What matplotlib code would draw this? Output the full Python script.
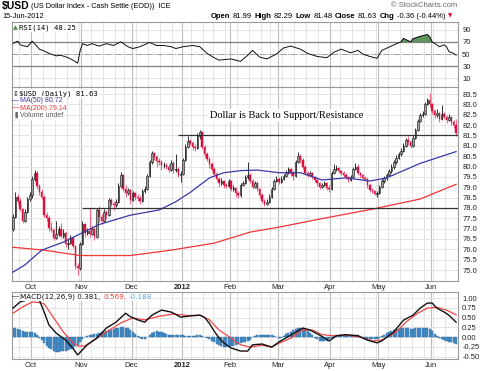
import numpy as np
import pandas as pd
import matplotlib
matplotlib.use("Agg")
import matplotlib.pyplot as plt

plt.rcParams['font.family'] = ['Liberation Sans', 'DejaVu Sans']

W, H = 489, 371

# trading days shown (ICE closed on these US holidays)
holidays = ["2011-11-24", "2011-12-26", "2012-01-02", "2012-01-16",
            "2012-02-20", "2012-04-06", "2012-05-28"]
days = pd.bdate_range("2011-09-21", "2012-06-15")
days = days[~days.isin(pd.to_datetime(holidays))]

first_open = 77.00
closes = [77.55, 78.55, 78.35, 77.95, 77.35, 77.80, 78.45, 78.60,
          79.40, 79.70, 79.05, 78.75, 78.55, 77.65, 77.50, 77.05, 76.95, 76.55,
          76.75, 77.00, 76.65, 76.80, 76.25, 76.30, 76.55, 76.15, 75.20, 75.10, 76.25,
          77.20, 76.80, 76.90, 76.75, 77.00, 76.60, 77.90, 77.55, 77.35, 77.80,
          77.65, 78.40, 78.20, 78.15, 78.30, 79.05, 79.60, 78.90, 78.70, 78.85, 78.40,
          78.70, 78.55, 78.50, 78.35, 78.80, 78.90, 79.55, 80.20, 80.65, 80.45,
          80.25, 80.20, 80.05, 80.05, 80.00, 79.85, 80.15, 79.85, 79.90, 79.60, 79.65,
          80.30, 80.95, 81.25, 81.15, 80.95, 80.90, 81.45, 81.65, 80.95, 80.60,
          80.35, 80.10, 79.90, 79.65, 79.40, 79.20, 79.30, 79.10, 79.05, 79.30,
          78.90, 78.95, 78.70, 78.60, 79.10, 79.20, 79.50, 79.60, 79.30, 79.00,
          79.20, 78.90, 78.60, 78.35, 78.20, 78.30, 78.55, 78.90, 79.30, 79.40,
          79.25, 79.40, 79.55, 79.70, 79.90, 79.70, 79.55, 80.20, 80.50, 80.30, 80.00,
          79.70, 79.60, 79.70, 79.50, 79.35, 79.20, 79.00, 79.10, 79.20, 78.95, 78.90,
          79.70, 79.90, 79.95, 79.80, 79.70, 79.60, 79.50, 79.35, 79.50, 79.90,
          80.00, 79.70, 79.60, 79.45, 79.40, 79.10, 78.85, 78.80, 78.65, 78.70,
          79.00, 79.30, 79.45, 79.60, 79.80, 80.00, 80.20, 80.40, 80.60, 80.75, 81.00,
          81.30, 81.20, 81.00, 81.40, 81.75, 82.20, 82.50, 82.55, 83.00, 83.20, 83.00,
          82.70, 82.50, 82.60, 82.30, 82.55, 82.40, 82.25, 82.40, 82.15, 81.99, 81.63]
highs = [77.70, 78.75, 78.65, 78.50, 78.00, 77.95, 78.55, 78.75,
         79.55, 79.85, 79.80, 79.15, 78.90, 78.60, 77.80, 77.65, 77.30, 77.05,
         77.35, 77.15, 77.25, 77.00, 76.90, 76.55, 76.70, 76.60, 76.20, 75.35, 76.35,
         77.35, 77.25, 77.05, 78.00, 77.15, 77.10, 78.00, 78.10, 77.70, 77.95,
         77.90, 78.50, 78.50, 78.35, 78.45, 79.20, 79.75, 79.65, 79.10, 78.95, 78.90,
         78.80, 78.75, 78.65, 78.60, 78.90, 79.05, 79.65, 80.30, 80.75, 80.70,
         80.55, 80.40, 80.30, 80.20, 80.15, 80.10, 80.30, 80.25, 80.60, 80.00, 79.80,
         80.40, 81.10, 81.45, 81.35, 81.25, 81.10, 81.60, 81.78, 81.70, 81.05,
         80.70, 80.45, 80.20, 80.00, 79.75, 79.50, 79.45, 79.35, 79.20, 79.40,
         79.35, 79.10, 79.00, 78.80, 79.20, 79.30, 79.60, 80.20, 79.70, 79.40,
         79.30, 79.30, 78.95, 78.70, 78.45, 78.45, 78.65, 79.00, 79.40, 79.55,
         79.50, 79.55, 79.65, 79.85, 80.00, 79.95, 79.80, 80.30, 80.70, 80.60, 80.40,
         80.05, 79.80, 79.80, 79.75, 79.55, 79.40, 79.25, 79.20, 79.30, 79.25, 79.10,
         79.80, 80.10, 80.05, 80.00, 79.85, 79.80, 79.70, 79.55, 79.60, 80.00,
         80.15, 80.10, 79.75, 79.65, 79.55, 79.45, 79.15, 78.95, 78.85, 78.80,
         79.10, 79.40, 79.55, 79.70, 79.90, 80.10, 80.30, 80.55, 80.70, 80.90, 81.15,
         81.40, 81.45, 81.30, 81.50, 81.85, 82.30, 82.60, 82.70, 83.10, 83.30, 83.55,
         83.05, 82.80, 82.80, 82.65, 82.95, 82.65, 82.50, 82.55, 82.45, 82.25, 82.29]
lows = [76.90, 77.50, 78.20, 77.85, 77.25, 77.30, 77.75, 78.35,
        78.50, 79.30, 78.90, 78.60, 78.45, 77.55, 77.35, 76.90, 76.85, 76.45,
        76.50, 76.65, 76.55, 76.55, 76.10, 76.00, 76.25, 76.05, 75.05, 74.75, 75.00,
        76.20, 76.60, 76.70, 76.60, 76.70, 76.45, 76.55, 77.30, 77.20, 77.30,
        77.45, 77.60, 78.10, 77.90, 78.05, 78.25, 79.00, 78.80, 78.55, 78.60, 78.20,
        78.35, 78.40, 78.35, 78.20, 78.30, 78.70, 78.85, 79.50, 80.10, 80.30,
        80.00, 80.05, 79.85, 79.95, 79.90, 79.75, 79.80, 79.70, 79.75, 79.50, 79.25,
        79.60, 80.25, 80.90, 81.05, 80.80, 80.75, 80.85, 81.35, 80.85, 80.45,
        80.25, 79.95, 79.80, 79.55, 79.30, 79.00, 79.10, 78.95, 78.95, 79.00,
        78.80, 78.80, 78.55, 78.50, 78.55, 79.05, 79.15, 79.40, 79.20, 78.90,
        78.95, 78.80, 78.50, 78.25, 78.10, 78.15, 78.25, 78.50, 78.85, 79.25,
        79.15, 79.20, 79.35, 79.50, 79.65, 79.55, 79.35, 79.50, 80.15, 80.15, 79.90,
        79.60, 79.50, 79.55, 79.40, 79.25, 79.05, 78.90, 78.95, 79.05, 78.85, 78.75,
        78.85, 79.65, 79.80, 79.70, 79.60, 79.50, 79.40, 79.25, 79.30, 79.45,
        79.85, 79.60, 79.45, 79.35, 79.30, 78.95, 78.75, 78.70, 78.60, 78.55,
        78.65, 78.95, 79.20, 79.35, 79.55, 79.70, 79.90, 80.10, 80.35, 80.50, 80.70,
        80.95, 81.05, 80.90, 80.95, 81.35, 81.70, 82.15, 82.40, 82.50, 82.95, 82.85,
        82.55, 82.35, 82.40, 82.15, 82.25, 82.30, 82.10, 82.20, 82.00, 81.85, 81.48]

# moving averages (trading-day number, value)
ma50_day = [0, 5, 12, 21, 29, 36, 49, 61, 68, 74, 82, 88, 95, 102, 111, 120, 129, 139, 149, 156, 163, 170, 185]
ma50 = [74.90, 75.25, 75.96, 76.35, 76.80, 77.20, 77.65, 77.90, 78.30, 78.75, 79.45, 79.70,
        79.80, 79.83, 79.70, 79.70, 79.35, 79.45, 79.30, 79.45, 79.80, 80.15, 80.72]
ma200_day = [0, 13, 28, 49, 66, 84, 99, 111, 128, 150, 170, 185]
ma200 = [76.10, 75.96, 75.70, 75.70, 75.96, 76.30, 76.83, 77.07, 77.46, 77.94, 78.43, 79.14]

rsi_day = [0, 2, 3, 6, 8, 9, 11, 13, 15, 18, 20, 23, 25, 27, 28, 29, 31, 33, 36, 39,
           42, 45, 48, 50, 53, 57, 60, 63, 66, 68, 71, 75, 78, 81, 84, 86, 91, 95, 98, 100,
           103, 106, 110, 113, 116, 120, 123, 127, 131, 134, 137, 141, 144, 146, 149, 152, 154, 159, 162, 163,
           166, 167, 170, 173, 174, 175, 177, 178, 180, 181, 182, 184, 185]
rsi = [67.5, 71, 65, 62, 71, 67, 58, 55, 51, 47, 48, 44, 40, 35, 55, 67, 64, 67, 63, 67,
       64, 70, 62, 59, 62, 69, 64, 64, 62, 59, 62, 64, 62, 51, 44, 40, 42, 38, 48, 56,
       45, 42, 50, 60, 63, 58, 51, 46, 44, 53, 58, 52, 56, 50, 46, 43, 56, 65, 70, 75.6,
       70, 75, 79, 82, 78, 70, 65, 62, 65, 62, 54, 51, 48.25]

macd_day = [0, 3, 6, 8, 11, 13, 15, 18, 22, 25, 27, 29, 31, 35, 39, 43, 47, 49, 52, 55,
            58, 62, 66, 70, 74, 78, 80, 82, 84, 86, 88, 91, 95, 98, 100, 104, 108, 111, 116, 121,
            124, 128, 132, 135, 139, 144, 148, 152, 154, 159, 163, 167, 170, 173, 175, 177, 180, 182, 185]
macd = [0.74, 0.90, 0.95, 1.00, 0.95, 0.64, 0.31, 0.10, -0.08, -0.29, -0.46, -0.33, -0.20, -0.03, 0.23, 0.38, 0.61, 0.52, 0.44, 0.38,
        0.56, 0.69, 0.64, 0.51, 0.54, 0.56, 0.50, 0.35, 0.15, -0.02, -0.15, -0.28, -0.36, -0.36, -0.20, -0.18, -0.26, -0.13, 0.05, 0.23,
        0.18, 0.05, -0.10, 0.03, 0.06, 0.03, -0.08, -0.15, -0.10, 0.13, 0.43, 0.56, 0.74, 0.87, 0.87, 0.74, 0.64, 0.56, 0.381]
sig_day = [0, 4, 8, 11, 13, 17, 21, 25, 27, 30, 35, 39, 45, 50, 55, 61, 67, 73, 78, 82,
           86, 91, 95, 99, 104, 108, 111, 116, 121, 125, 129, 134, 139, 145, 150, 154, 160, 164, 169, 173,
           177, 181, 185]
signal = [0.61, 0.77, 0.90, 0.88, 0.85, 0.49, 0.13, -0.15, -0.23, -0.23, -0.03, 0.13, 0.36, 0.49, 0.44, 0.53, 0.59, 0.55, 0.56, 0.44,
          0.18, -0.03, -0.20, -0.26, -0.21, -0.26, -0.16, -0.03, 0.18, 0.18, 0.06, 0.03, 0.05, 0.00, -0.10, -0.08, 0.13, 0.38, 0.61, 0.74,
          0.76, 0.69, 0.569]
hist = [0.22, 0.22, 0.20, 0.18, 0.15, 0.14, 0.13, 0.12, 0.12, 0.10, 0.06,
        -0.02, -0.08, -0.15, -0.22, -0.28, -0.32, -0.36, -0.38, -0.38, -0.37, -0.36, -0.35, -0.33, -0.30, -0.27, -0.24, -0.20,
        -0.12, -0.05, 0.00, 0.03, 0.05, 0.06, 0.07,
        0.08, 0.10, 0.12, 0.14, 0.15, 0.17, 0.18, 0.20, 0.22, 0.24, 0.26, 0.25, 0.24, 0.22, 0.18, 0.13,
        0.07, 0.02, -0.02, -0.04, -0.04, -0.01,
        0.05, 0.10, 0.14, 0.15, 0.14, 0.12, 0.10, 0.08, 0.06, 0.05, 0.04,
        0.04, 0.05, 0.05, 0.04, 0.03, 0.02, 0.02, 0.02, 0.03, 0.04, 0.04, 0.02, 0.00,
        -0.02, -0.06, -0.10, -0.14, -0.18, -0.21, -0.23, -0.25, -0.25, -0.25, -0.24, -0.22, -0.20, -0.18, -0.16, -0.14, -0.12, -0.10, -0.08,
        0.00, 0.03, 0.05, 0.06, 0.06, 0.06, 0.05, 0.05, 0.04, 0.02, 0.00, -0.02, -0.02,
        0.03, 0.07, 0.10, 0.14, 0.17, 0.20, 0.22, 0.22, 0.21, 0.19, 0.15, 0.10, 0.04,
        -0.02, -0.06, -0.09, -0.11, -0.11, -0.09, -0.06, -0.02,
        0.02, 0.04, 0.05, 0.06, 0.06, 0.05, 0.04, 0.04, 0.05, 0.05, 0.04, 0.02, 0.00,
        -0.02, -0.04, -0.05, -0.05, -0.05, -0.04, -0.02,
        0.02, 0.06, 0.10, 0.13, 0.16, 0.18, 0.20, 0.21, 0.22, 0.23, 0.23, 0.22, 0.20, 0.21, 0.22, 0.22, 0.22, 0.22, 0.23, 0.22, 0.20,
        0.15, 0.08, 0.02, -0.03, -0.05, -0.08, -0.10, -0.12, -0.14, -0.16, -0.19]

# hand-drawn support / resistance lines (level, starting trading day)
resistance = (81.5, 69)
support = (78.0, 29)

closes = np.array(closes)
highs = np.array(highs)
lows = np.array(lows)
opens = np.r_[first_open, closes[:-1]]  # open taken as prior settle
rsi = np.array(rsi)
x = np.arange(len(days))

months = np.asarray(days.month)
month_start = np.flatnonzero(months[1:] != months[:-1]) + 1
week_start = np.flatnonzero(np.diff(np.asarray(days.weekday)) < 0) + 1
month_lbl = ['2012' if days[i].month == 1 else days[i].strftime('%b') for i in month_start]

fig = plt.figure(figsize=(W / 100, H / 100), dpi=100)


def rect(x0, y0, x1, y1):
    return [x0 / W, 1 - y1 / H, (x1 - x0) / W, (y1 - y0) / H]


def fxy(px, py):
    return px / W, 1 - py / H


XL = (-0.42, 185.8)


def style(ax, yticks, fmt, ylim):
    ax.set_xlim(*XL)
    ax.set_ylim(*ylim)
    ax.yaxis.tick_right()
    ax.set_yticks(yticks)
    ax.set_yticklabels([fmt.format(v) for v in yticks])
    ax.tick_params(axis='y', length=0, pad=3, labelsize=5.5, colors='#222222')
    ax.tick_params(axis='x', length=0, pad=2.2, labelsize=5.5, colors='#222222')
    for s in ax.spines.values():
        s.set_color('#9a9a9a')
        s.set_linewidth(0.8)
    for w in week_start:
        ax.axvline(w - 0.5, color='#e0e0e0', lw=0.6, zorder=0)
    for m in month_start:
        ax.axvline(m - 0.5, color='#bcbcbc', lw=0.8, zorder=0)
    for v in yticks:
        ax.axhline(v, color='#e0e0e0', lw=0.6, zorder=0)
    ax.set_xticks(month_start - 0.5)
    ax.set_xticklabels(month_lbl)
    for t in ax.get_xticklabels():
        if t.get_text() == '2012':
            t.set_fontweight('bold')


# ---- RSI panel
ax_r = fig.add_axes(rect(12, 22, 458, 87))
style(ax_r, [10, 30, 50, 70, 90], '{:d}', (-4, 102.5))
ax_r.set_xticklabels([])
ax_r.axhline(70, color='#808080', lw=0.9, zorder=1)
ax_r.axhline(30, color='#808080', lw=0.9, zorder=1)
ax_r.axhline(50, color='#a0a0a0', lw=0.7, ls='-.', zorder=1)
ax_r.fill_between(rsi_day, 70, rsi, where=rsi >= 70, interpolate=True,
                  color='#5f955f', lw=0.4, edgecolor='#3f6f3f', zorder=2)
ax_r.plot(rsi_day, rsi, color='#111111', lw=0.7, zorder=3)

# ---- price panel
ax_p = fig.add_axes(rect(12, 87, 458, 281))
style(ax_p, list(np.arange(75.0, 83.51, 0.5)), '{:.1f}', (74.47, 83.84))
up = closes >= opens
dn = ~up
ax_p.vlines(x[dn], lows[dn], highs[dn], color='#f0688a', lw=0.8, zorder=2)
ax_p.bar(x[dn], closes[dn] - opens[dn], bottom=opens[dn], width=0.62,
         color='#e0103c', edgecolor='#d0103a', lw=0.3, zorder=3)
ax_p.vlines(x[up], lows[up], highs[up], color='#333333', lw=0.7, zorder=2)
ax_p.bar(x[up], closes[up] - opens[up], bottom=opens[up], width=0.62,
         color='#a4a4a4', edgecolor='#1a1a1a', lw=0.45, zorder=3)
ax_p.plot(ma200_day, ma200, color='#f03535', lw=0.9, zorder=4)
ax_p.plot(ma50_day, ma50, color='#3838a8', lw=0.9, zorder=4)
ax_p.hlines(resistance[0], resistance[1], XL[1], color='#333333', lw=0.9, zorder=5)
ax_p.hlines(support[0], support[1], XL[1], color='#333333', lw=0.9, zorder=5)

# ---- MACD panel
ax_m = fig.add_axes(rect(12, 292, 458, 359))
style(ax_m, [-0.5, -0.25, 0.0, 0.25, 0.5, 0.75, 1.0], '{:.2f}', (-0.564, 1.154))
ax_m.bar(x, hist, width=0.85, color='#4a8fc8', edgecolor='#2a6aa2', lw=0.3, zorder=2)
ax_m.plot(sig_day, signal, color='#f04545', lw=0.9, zorder=3)
ax_m.plot(macd_day, macd, color='#111111', lw=1.0, zorder=4)

# ---- texts
r = None


def chain(px, py, parts, **kw):
    global r
    if r is None:
        r = fig.canvas.get_renderer()
    for s, st in parts:
        opts = dict(kw)
        opts.update(st)
        t = fig.text(*fxy(px, py), s, va='center', ha='left', **opts)
        px += t.get_window_extent(r).width + 2.5
    return px


fig.text(*fxy(2, 6), '$USD', fontsize=7.5, fontweight='bold', va='center')
fig.text(*fxy(31, 6.5), '(US Dollar Index - Cash Settle (EOD))  ICE', fontsize=5.3, va='center')
fig.text(*fxy(2, 16), '15-Jun-2012', fontsize=5.3, va='center')
fig.text(*fxy(457, 5.5), '\u00a9 StockCharts.com', fontsize=5.5, color='#666666', ha='right', va='center')
B = {'fontweight': 'bold'}
N = {}
chain(211, 16, [('Open', B), ('81.99', N), ('High', B), ('82.29', N), ('Low', B), ('81.48', N),
                ('Close', B), ('81.63', N), ('Chg', B), ('-0.36 (-0.44%)', N),
                ('\u25bc', {'color': '#e0103c', 'family': 'DejaVu Sans', 'fontsize': 4})],
      fontsize=5.5)

wb = dict(facecolor='white', edgecolor='none', pad=0.6)
fig.text(*fxy(13, 27.5), '\u25b2', fontsize=4.5, color='#4f8a4f', family='DejaVu Sans', va='center')
fig.text(*fxy(19, 27.5), 'RSI(14) 48.25', fontsize=5.2, family='DejaVu Sans Mono', va='center', bbox=wb)

fig.text(*fxy(13, 93.5), '\u2195', fontsize=5, color='#222222', family='DejaVu Sans', va='center')
fig.text(*fxy(19, 93.5), '$USD (Daily) 81.63', fontsize=5.2, family='DejaVu Sans Mono', va='center', bbox=wb)
fig.text(*fxy(12.5, 100.8), '\u2014', fontsize=5, color='#3838a8', va='center')
fig.text(*fxy(20, 100.8), 'MA(50) 80.72', fontsize=5, color='#3838a8', va='center', bbox=wb)
fig.text(*fxy(12.5, 108), '\u2014', fontsize=5, color='#f03535', va='center')
fig.text(*fxy(20, 108), 'MA(200) 79.14', fontsize=5, color='#f03535', va='center', bbox=wb)
fig.text(*fxy(13, 115.3), '\u2590', fontsize=4.5, color='#666666', family='DejaVu Sans', va='center')
fig.text(*fxy(20, 115.3), 'Volume undef', fontsize=5, color='#555555', va='center', bbox=wb)

fig.text(*fxy(287, 115.5), 'Dollar is Back to Support/Resistance', fontsize=7.5,
         family='Liberation Serif', ha='center', va='center',
         bbox=dict(facecolor='white', edgecolor='none', pad=1.5))

fig.text(*fxy(12.5, 297), '\u2014', fontsize=5, color='#111111', va='center')
chain(20.5, 297, [('MACD(12,26,9) 0.381,', {'color': '#111111'}),
                  ('0.569,', {'color': '#f03535'}),
                  ('-0.188', {'color': '#55a5e0'})],
      fontsize=5.2, family='DejaVu Sans', bbox=wb)

fig.savefig('out.png', dpi=100)
